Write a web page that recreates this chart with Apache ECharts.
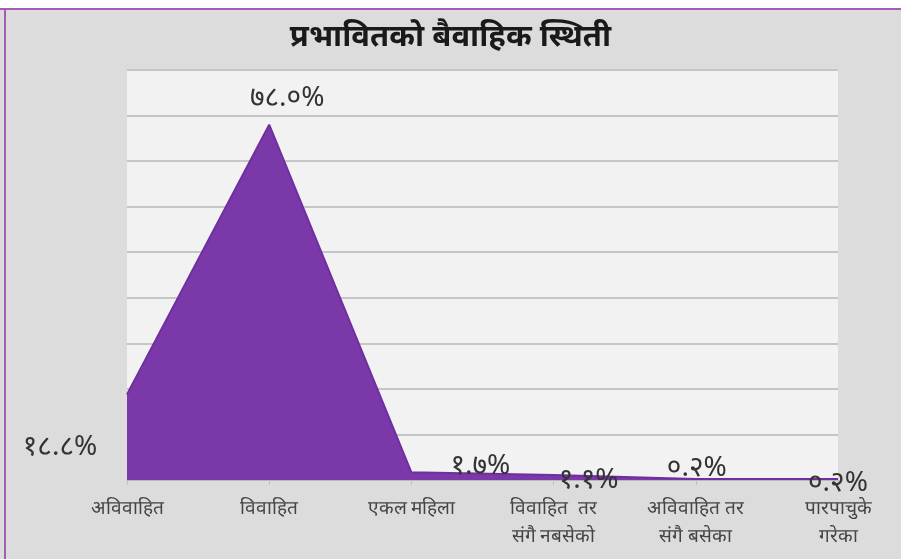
<!DOCTYPE html>
<html><head><meta charset="utf-8">
<script src="https://cdn.jsdelivr.net/npm/echarts@6/dist/echarts.min.js"></script>
<style>html,body{margin:0;padding:0;background:#fff}#c{width:901px;height:559px}</style>
</head><body><div id="c"></div>
<script>
const categories = ["अविवाहित", "विवाहित", "एकल महिला", "विवाहित  तर\nसंगै नबसेको", "अविवाहित तर\nसंगै बसेका", "पारपाचुके\nगरेका"];
const values = [18.8, 78.0, 1.7, 1.1, 0.2, 0.2];
const labelTexts = ["१८.८%", "७८.०%", "१.७%", "१.१%", "०.२%", "०.२%"];
const labelOffsets = [[-67, 53], [18, -27], [69, -6], [35, 5], [1, -11], [0, 4]];

const chart = echarts.init(document.getElementById('c'));
chart.setOption({
  backgroundColor: '#dcdcdc',
  animation: false,
  title: {
    text: 'प्रभावितको बैवाहिक स्थिती',
    left: 'center', top: 17,
    textStyle: { fontSize: 31, fontWeight: 'bold', color: '#1a1a1a', fontFamily: 'Noto Sans, sans-serif' }
  },
  graphic: [
    { type: 'rect', shape: { x: 0, y: 0, width: 901, height: 8 }, style: { fill: '#ffffff' }, silent: true },
    { type: 'rect', shape: { x: 0, y: 8, width: 901, height: 2 }, style: { fill: '#a45fb5' }, silent: true },
    { type: 'rect', shape: { x: 4, y: 8, width: 2, height: 551 }, style: { fill: '#a45fb5' }, silent: true }
  ],
  grid: { left: 127, right: 63, top: 70, bottom: 79, show: true, backgroundColor: '#f2f2f2', borderWidth: 0 },
  xAxis: {
    type: 'category', data: categories, boundaryGap: false,
    axisLine: { lineStyle: { color: '#b8b8b8' } },
    axisTick: { show: true, alignWithLabel: true, lineStyle: { color: '#c0c0c0' } },
    axisLabel: { color: '#444', fontSize: 19, lineHeight: 28, margin: 15, interval: 0, fontFamily: 'serif' }
  },
  yAxis: {
    type: 'value', min: 0, max: 90, interval: 10,
    axisLabel: { show: false }, axisLine: { show: false }, axisTick: { show: false },
    splitLine: { lineStyle: { color: '#c6c6c6', width: 2 } }
  },
  series: [{
    type: 'line',
    data: values.map((v, i) => ({
      value: v,
      label: { offset: labelOffsets[i], formatter: labelTexts[i] }
    })),
    symbol: 'circle', symbolSize: 1,
    itemStyle: { color: 'rgba(0,0,0,0)' },
    lineStyle: { color: '#6f2fa0', width: 2 },
    areaStyle: { color: '#7a38a8', opacity: 1 },
    label: { show: true, position: 'inside', color: '#333', fontSize: 28, fontFamily: 'Noto Sans, sans-serif' }
  }]
});
</script></body></html>
